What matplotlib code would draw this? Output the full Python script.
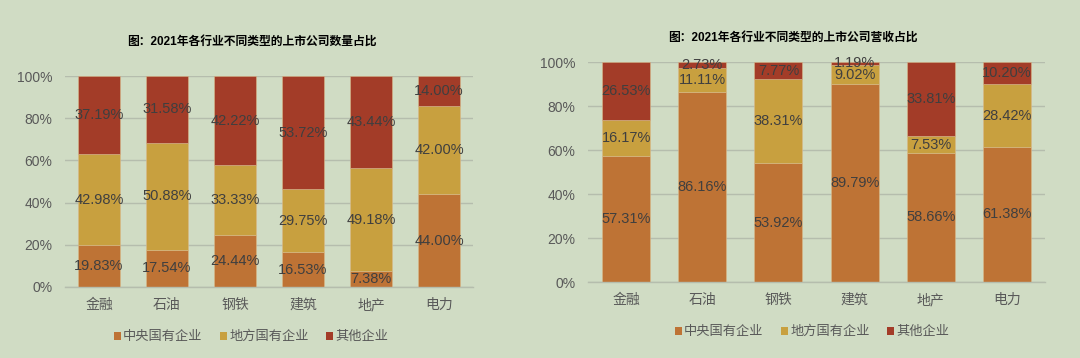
import matplotlib.pyplot as plt
from matplotlib.patches import Patch

plt.rcParams['font.family'] = ['Liberation Sans', 'Noto Sans CJK SC', 'DejaVu Sans']

industries = ['金融', '石油', '钢铁', '建筑', '地产', '电力']
series_names = ['中央国有企业', '地方国有企业', '其他企业']

# 数量占比 (%)
count_central = [19.83, 17.54, 24.44, 16.53, 7.38, 44.00]
count_local = [42.98, 50.88, 33.33, 29.75, 49.18, 42.00]
count_other = [37.19, 31.58, 42.22, 53.72, 43.44, 14.00]

# 营收占比 (%)
rev_central = [57.31, 86.16, 53.92, 89.79, 58.66, 61.38]
rev_local = [16.17, 11.11, 38.31, 9.02, 7.53, 28.42]
rev_other = [26.53, 2.73, 7.77, 1.19, 33.81, 10.20]

titles = ['图：2021年各行业不同类型的上市公司数量占比',
          '图：2021年各行业不同类型的上市公司营收占比']

BG = '#D0DCC4'
COLORS = ['#BE7335', '#C8A03F', '#A33C28']
GRID = '#B5BDAD'
TICK_C = '#595959'
LABEL_C = '#3F3F3F'


def draw(ax, stacks, title, title_xy, fig):
    x = list(range(len(industries)))
    bottom = [0.0] * len(industries)
    for vals, color in zip(stacks, COLORS):
        frac = [v / 100 for v in vals]
        ax.bar(x, frac, 0.63, bottom=bottom, color=color,
               edgecolor='#D9B98A', linewidth=0.4, zorder=2)
        for i, (b, f, v) in enumerate(zip(bottom, frac, vals)):
            ax.text(i, b + f / 2, f'{v:.2f}%', ha='center', va='center',
                    fontsize=10.5, color=LABEL_C, zorder=3)
        bottom = [b + f for b, f in zip(bottom, frac)]
    ax.set_facecolor(BG)
    ax.set_xlim(-0.5, len(industries) - 0.5)
    ax.set_ylim(0, 1)
    ax.set_yticks([0, 0.2, 0.4, 0.6, 0.8, 1.0])
    ax.set_yticklabels(['0%', '20%', '40%', '60%', '80%', '100%'])
    ax.set_xticks(x)
    ax.set_xticklabels(industries)
    ax.tick_params(axis='y', length=0, pad=9, labelsize=10, labelcolor=TICK_C)
    ax.tick_params(axis='x', length=0, pad=8, labelsize=10, labelcolor=TICK_C)
    ax.grid(axis='y', color=GRID, linewidth=1, zorder=0)
    for s in ['top', 'right', 'left']:
        ax.spines[s].set_visible(False)
    ax.spines['bottom'].set_color(GRID)
    ax.spines['bottom'].set_linewidth(1)
    fig.text(title_xy[0], title_xy[1], title, ha='center', va='center',
             fontsize=8.5, fontweight='bold', color='black')


fig = plt.figure(figsize=(10.8, 3.58), dpi=100)
fig.patch.set_facecolor(BG)

ax1 = fig.add_axes([65 / 1080, 71 / 358, 408 / 1080, 211 / 358])
ax2 = fig.add_axes([588 / 1080, 76 / 358, 457 / 1080, 220 / 358])

draw(ax1, [count_central, count_local, count_other], titles[0],
     (252 / 1080, 1 - 42 / 358), fig)
draw(ax2, [rev_central, rev_local, rev_other], titles[1],
     (793 / 1080, 1 - 38 / 358), fig)

handles = [Patch(facecolor=c, edgecolor='none') for c in COLORS]
for cx, cy in [(251 / 1080, 1 - 337 / 358), (812 / 1080, 1 - 332 / 358)]:
    leg = fig.legend(handles, series_names, loc='center', bbox_to_anchor=(cx, cy),
                     ncol=3, frameon=False, fontsize=9.5, handlelength=0.55,
                     handleheight=0.55, handletextpad=0.15, columnspacing=1.3,
                     labelcolor=TICK_C)

fig.savefig('out.png', dpi=100, facecolor=BG)
